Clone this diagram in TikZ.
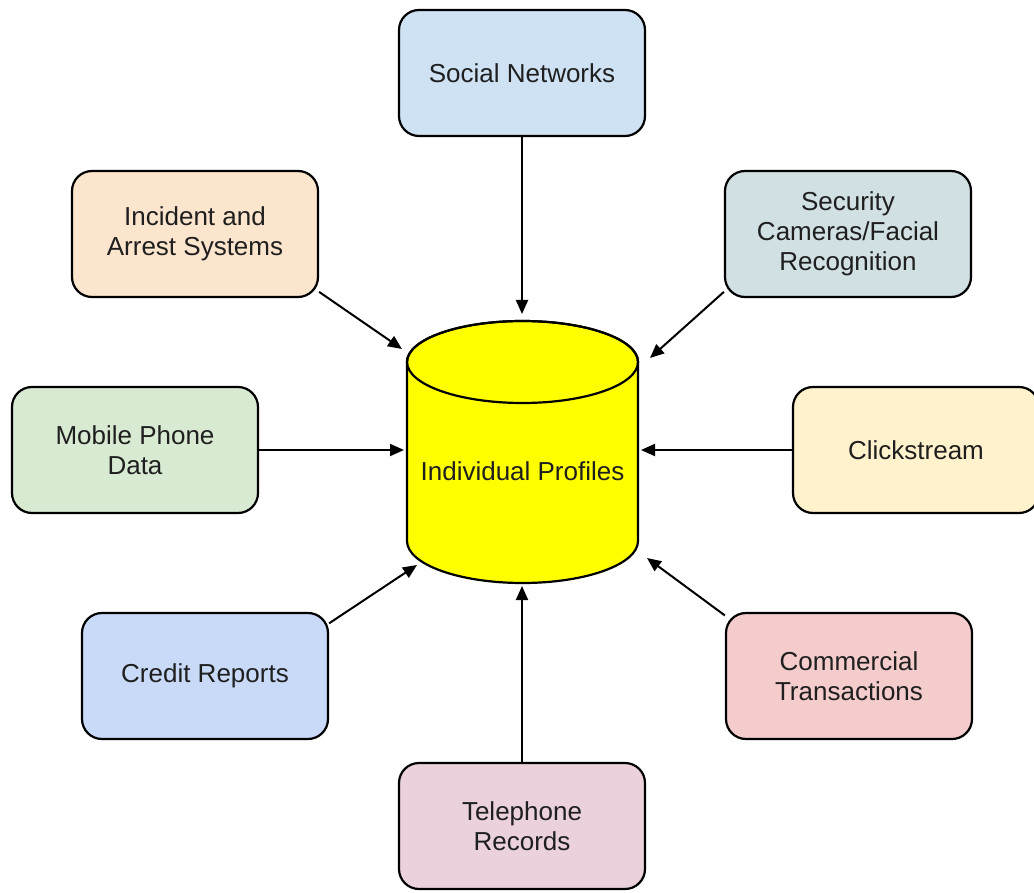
\documentclass[tikz,border=0pt]{standalone}
\usepackage{fontspec}
\setmainfont{Liberation Sans}
\usetikzlibrary{arrows.meta}
\definecolor{cSocial}{HTML}{CFE2F3}
\definecolor{cIncident}{HTML}{FCE5CD}
\definecolor{cSecurity}{HTML}{D0E0E3}
\definecolor{cMobile}{HTML}{D9EAD3}
\definecolor{cClick}{HTML}{FFF2CC}
\definecolor{cCredit}{HTML}{C9DAF8}
\definecolor{cCommercial}{HTML}{F4CCCC}
\definecolor{cPhone}{HTML}{EAD1DC}
\definecolor{cDB}{HTML}{FFFF00}
\tikzset{
  srcbox/.style={draw=black, line width=2.2pt, rounded corners=20pt,
    minimum width=246pt, minimum height=126pt, align=center,
    font=\fontsize{26}{30}\selectfont, inner sep=0pt, text=black!88},
  arr/.style={line width=2pt, -{Triangle[length=14pt,width=12pt]}},
}
\begin{document}
\begin{tikzpicture}[x=1pt,y=-1pt]
\useasboundingbox (0,0) rectangle (1034,893);
\fill[white] (0,0) rectangle (1034,893);

% cylinder
\draw[fill=cDB, line width=2.2pt] (407,362) -- (407,541)
  arc[start angle=180, end angle=0, x radius=115.5, y radius=42]
  -- (638,362)
  arc[start angle=0, end angle=-180, x radius=115.5, y radius=41] -- cycle;
\draw[line width=2.2pt] (522.5,362) ellipse [x radius=115.5, y radius=41];
\node[font=\fontsize{26}{30}\selectfont, text=black!88] (db) at (522.5,471) {Individual Profiles};

% boxes
\node[srcbox, fill=cSocial] (sn) at (522,73) {Social Networks};
\node[srcbox, fill=cIncident] (inc) at (195,234) {Incident and\\Arrest Systems};
\node[srcbox, fill=cSecurity] (sec) at (848,234) {Security\\Cameras/Facial\\Recognition};
\node[srcbox, fill=cMobile] (mob) at (135,450) {Mobile Phone\\Data};
\node[srcbox, fill=cClick] (clk) at (916,450) {Clickstream};
\node[srcbox, fill=cCredit] (cr) at (205,676) {Credit Reports};
\node[srcbox, fill=cCommercial] (com) at (849,676) {Commercial\\Transactions};
\node[srcbox, fill=cPhone] (tel) at (522,826) {Telephone\\Records};

% arrow targets
\coordinate (tSn) at (522,314);
\coordinate (tInc) at (402,349);
\coordinate (tSec) at (650,358);
\coordinate (tMob) at (404,450);
\coordinate (tClk) at (641,450);
\coordinate (tCr) at (417,565);
\coordinate (tCom) at (647,558);
\coordinate (tTel) at (522,586);

\draw[arr] (sn) -- (tSn);
\draw[arr] (inc.-25) -- (tInc);
\draw[arr] (sec.205) -- (tSec);
\draw[arr] (mob) -- (tMob);
\draw[arr] (clk) -- (tClk);
\draw[arr] (cr.23) -- (tCr);
\draw[arr] (com.154) -- (tCom);
\draw[arr] (tel) -- (tTel);
\end{tikzpicture}
\end{document}
